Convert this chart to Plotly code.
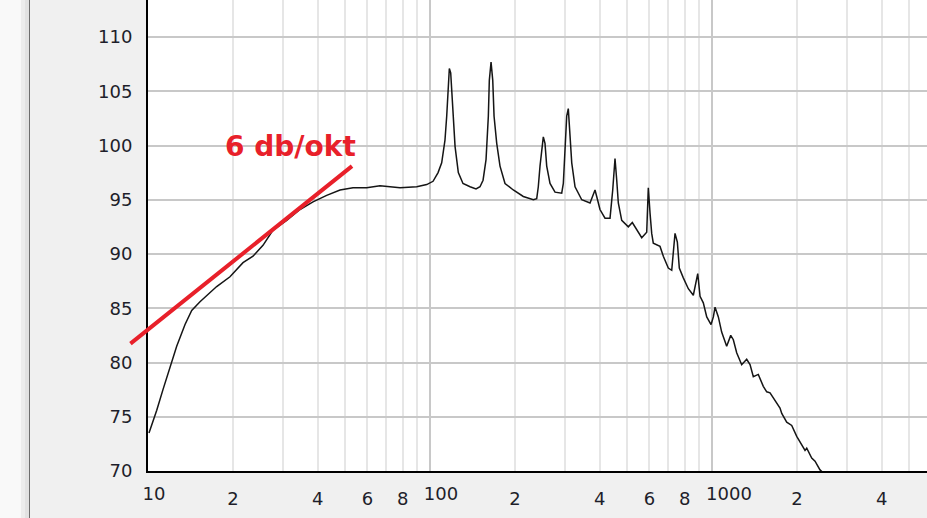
import math
import plotly.graph_objects as go

# ---- data ----
freq_hz = [10.08, 10.74, 11.30, 11.97, 12.64, 13.53, 14.29, 15.29, 17.52, 19.53,
           21.72, 23.57, 25.57, 27.75, 31.03, 34.59, 38.47, 43.01, 47.96, 53.33,
           59.64, 66.47, 78.29, 89.72, 97.34, 102.5, 106.8, 110.0, 111.2, 113.0,
           114.6, 115.6, 117.1, 118.4, 119.4, 120.7, 122.7, 126.0, 130.9, 138.7,
           145.6, 150.4, 154.2, 158.0, 159.7, 161.0, 162.3, 164.6, 166.9, 168.7,
           172.4, 177.1, 184.5, 197.4, 214.2, 232.5, 239.0, 242.1, 245.5, 248.9,
           252.2, 255.7, 259.3, 266.4, 277.5, 293.1, 297.0, 301.1, 305.3, 309.3,
           313.7, 318.1, 326.8, 345.2, 369.3, 379.4, 384.7, 390.0, 400.6, 417.4,
           434.8, 444.5, 452.9, 459.3, 465.3, 478.4, 504.9, 521.7, 540.8, 563.3,
           586.7, 594.4, 602.7, 611.1, 619.1, 654.0, 671.9, 699.8, 719.6, 729.1,
           739.3, 753.4, 765.6, 791.1, 824.1, 858.4, 877.6, 889.9, 906.8, 931.3,
           957.8, 992.0, 1011, 1025, 1053, 1082, 1127, 1165, 1190, 1223,
           1274, 1327, 1364, 1401, 1459, 1520, 1563, 1606, 1742, 1767,
           1840, 1917, 1997, 2052, 2137, 2167, 2257, 2319, 2415, 2537]
spl_db = [73.5, 75.6, 77.5, 79.6, 81.5, 83.5, 84.8, 85.6, 87.0, 87.9,
          89.2, 89.8, 90.8, 92.2, 93.1, 94.1, 94.8, 95.4, 95.9, 96.1,
          96.1, 96.3, 96.1, 96.2, 96.4, 96.7, 97.5, 98.4, 99.3, 100.5,
          102.7, 105.1, 107.1, 106.7, 105.1, 102.4, 99.9, 97.5, 96.5, 96.2,
          96.0, 96.2, 96.8, 98.7, 100.5, 102.7, 106.0, 107.7, 106.0, 102.7,
          100.2, 98.1, 96.5, 95.9, 95.3, 95.0, 95.1, 96.2, 98.1, 99.6,
          100.8, 100.2, 98.1, 96.5, 95.7, 95.6, 96.5, 99.6, 102.7, 103.4,
          101.1, 98.4, 96.2, 95.0, 94.7, 95.6, 95.9, 95.3, 94.1, 93.3,
          93.3, 95.9, 98.8, 96.8, 94.7, 93.1, 92.5, 92.9, 92.2, 91.5,
          92.0, 96.1, 93.8, 91.9, 91.0, 90.7, 89.8, 88.7, 88.5, 90.4,
          91.9, 91.1, 88.7, 87.8, 86.8, 86.2, 87.3, 88.2, 86.1, 85.5,
          84.2, 83.5, 84.2, 85.1, 84.2, 82.8, 81.5, 82.5, 82.1, 80.9,
          79.8, 80.3, 79.8, 78.7, 78.9, 77.8, 77.3, 77.2, 75.8, 75.3,
          74.5, 74.2, 73.2, 72.7, 71.9, 72.1, 71.2, 70.9, 70.1, 69.6]

# single-digit tick labels (centred on their ticks)
x_digit_vals = [20, 40, 60, 80, 200, 400, 600, 800, 2000, 4000]
x_digit_labels = ["2", "4", "6", "8", "2", "4", "6", "8", "2", "4"]
# decade tick labels (first digit sits on the tick)
x_decade_vals = [10, 100, 1000]
x_decade_labels = ["10", "100", "1000"]
x_minor_vals = [20, 30, 40, 50, 60, 70, 80, 90,
                200, 300, 400, 500, 600, 700, 800, 900,
                2000, 3000, 4000, 5000]
y_tick_vals = [70, 75, 80, 85, 90, 95, 100, 105, 110]
y_tick_labels = [str(v) for v in y_tick_vals]

slope_line_hz = [8.63, 52.9]   # red 6 dB/oct guide line (start, end)
slope_line_db = [81.7, 98.1]
slope_label = "6 db/okt"
slope_label_hz = 32.0
slope_label_db = 99.9

x_range_hz = [10, 5785]
y_range_db = [70, 113.41]

FONT = "DejaVu Sans"
TICK_COLOR = "#1e1e2a"
TICK_FONT = dict(family=FONT, size=18, color=TICK_COLOR)
X_STANDOFF = 10

fig = go.Figure()
fig.add_trace(go.Scatter(
    x=freq_hz, y=spl_db, mode="lines",
    line=dict(color="#151515", width=1.5),
    hoverinfo="skip", showlegend=False,
))
# empty traces so the overlay axes (decade labels / grid) are drawn
for ax_name in ["x2", "x3", "x4"]:
    fig.add_trace(go.Scatter(x=[], y=[], xaxis=ax_name, yaxis="y",
                             showlegend=False, hoverinfo="skip"))

fig.add_annotation(
    x=math.log10(slope_line_hz[1]), y=slope_line_db[1],
    ax=math.log10(slope_line_hz[0]), ay=slope_line_db[0],
    xref="x", yref="y", axref="x", ayref="y",
    text="", showarrow=True, arrowhead=0, arrowwidth=4,
    arrowcolor="#e8202a", standoff=0, startstandoff=0, borderpad=0,
)
fig.add_annotation(
    x=math.log10(slope_label_hz), y=slope_label_db, xref="x", yref="y",
    text=slope_label, showarrow=False,
    font=dict(family=FONT, size=28, color="#e8202a", weight="bold"),
    xanchor="center", yanchor="middle",
)

# left window frame / shadow
fig.add_shape(type="rect", xref="paper", yref="paper", xsizemode="pixel",
              xanchor=0, x0=-148, x1=-119, y0=-0.2, y1=1.1,
              fillcolor="#f9f9f9", line_width=0, layer="below")
fig.add_shape(type="rect", xref="paper", yref="paper", xsizemode="pixel",
              xanchor=0, x0=-127, x1=-119, y0=-0.2, y1=1.1,
              fillcolor="#ededed", line_width=0, layer="below")
fig.add_shape(type="rect", xref="paper", yref="paper", xsizemode="pixel",
              xanchor=0, x0=-123, x1=-119, y0=-0.2, y1=1.1,
              fillcolor="#e2e2e2", line_width=0, layer="below")
fig.add_shape(type="line", xref="paper", yref="paper", xsizemode="pixel",
              xanchor=0, x0=-118.5, x1=-118.5, y0=-0.2, y1=1.1,
              line=dict(color="#6e6e6e", width=1), layer="below")

x_range_log = [math.log10(x_range_hz[0]), math.log10(x_range_hz[1])]
common = dict(type="log", range=x_range_log, automargin=False, tickangle=0,
              zeroline=False, ticks="", tickfont=TICK_FONT,
              ticklabelstandoff=X_STANDOFF)


def overlay(vals, labels, shift, grid):
    return dict(**common, overlaying="x", side="bottom", showline=False,
                tickvals=vals, ticktext=labels, ticklabelshift=shift,
                showgrid=grid, gridcolor="#c8c8c8", gridwidth=2)


fig.update_layout(
    width=927, height=518,
    margin=dict(l=148, r=0, t=0, b=47, autoexpand=False),
    paper_bgcolor="#f0f0f0", plot_bgcolor="white",
    showlegend=False,
    xaxis=dict(
        **common,
        tickvals=x_digit_vals, ticktext=x_digit_labels,
        showgrid=False,
        showline=True, linecolor="black", linewidth=2,
        minor=dict(tickvals=x_minor_vals, showgrid=True,
                   gridcolor="#e6e6e6", gridwidth=2, ticks=""),
    ),
    xaxis2=overlay([x_decade_vals[0]], [x_decade_labels[0]], 6, False),
    xaxis3=overlay([x_decade_vals[1]], [x_decade_labels[1]], 11, True),
    xaxis4=overlay([x_decade_vals[2]], [x_decade_labels[2]], 17, True),
    yaxis=dict(
        range=y_range_db, tickvals=y_tick_vals, ticktext=y_tick_labels,
        automargin=False,
        showgrid=True, gridcolor="#c8c8c8", gridwidth=2, zeroline=False,
        showline=True, linecolor="black", linewidth=2,
        ticks="", ticklabelstandoff=10, tickfont=TICK_FONT,
    ),
)

fig.write_html("out.html",
               config={"displayModeBar": False},
               post_script="document.body.style.margin='0px';"
                           "document.body.style.padding='0px';")
